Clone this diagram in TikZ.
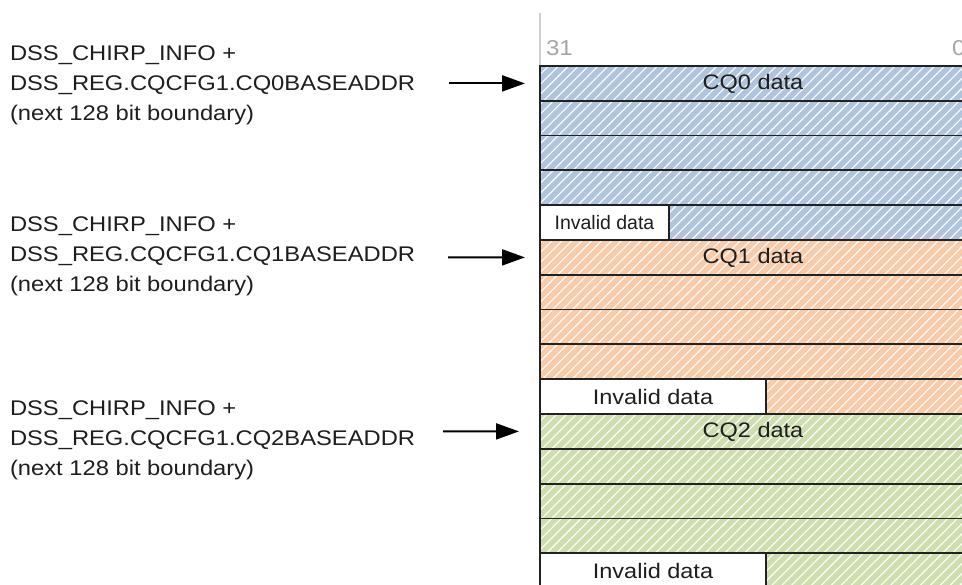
\documentclass[tikz,border=0pt]{standalone}
\usepackage{fontspec}
\setmainfont{Liberation Sans}[FakeStretch=1.12]
\newfontfamily\narrowfont{Liberation Sans}
\usetikzlibrary{arrows.meta}
\usetikzlibrary{positioning}
\usetikzlibrary{patterns.meta}
\definecolor{cqblue}{RGB}{176,196,222}
\definecolor{cqorange}{RGB}{250,203,168}
\definecolor{cqgreen}{RGB}{206,222,175}
\definecolor{rowline}{RGB}{34,34,34}
\definecolor{inktext}{RGB}{30,30,30}
\definecolor{axisgray}{RGB}{205,205,205}
\definecolor{bitgray}{RGB}{165,165,165}
\newcommand{\baseaddr}[1]{%
    \begin{tabular}[t]{@{}l@{}}
        DSS\_CHIRP\_INFO + \\
        DSS\_REG.CQCFG1.#1BASEADDR \\
        (next 128 bit boundary)
    \end{tabular}%
}
\def\CQzeroAddr{\baseaddr{CQ0}}
\def\CQoneAddr{\baseaddr{CQ1}}
\def\CQtwoAddr{\baseaddr{CQ2}}

\begin{document}
\begin{tikzpicture}[x=1pt, y=-1pt,
                    every node/.style={inner sep=0pt, outer sep=0pt, text=inktext},
                    row/.style={draw=rowline, line width=1.8pt, anchor=north west,
                                minimum width=426pt, minimum height=34.8pt,
                                font=\fontsize{21}{24}\selectfont},
                    hatched/.style={preaction={fill=#1},
                                    preaction={pattern={Lines[angle=45,distance=7pt,line width=1.1pt]},
                                               pattern color=white}},
                    invalid/.style={draw=rowline, line width=1.8pt, fill=white, anchor=north west,
                                    minimum width=#1, minimum height=34.8pt},
                    addr/.style={anchor=base west, font=\fontsize{21.2}{30}\selectfont},
                    bit/.style={anchor=base west, text=bitgray, font=\fontsize{21.5}{24}\selectfont},
                    addrarrow/.style={draw=black, line width=2pt, -{Triangle[length=23pt,width=16pt]}}]

    \useasboundingbox (0,0) rectangle (962,585);
    \clip (0,0) rectangle (962,585);

    \coordinate (axtop) at (540,13);
    \coordinate (axbot) at (540,585);
    \draw[axisgray, line width=1.5pt] (axtop) -- (axbot);

    \node[bit] (msb) at (546,56) {31};
    \node[bit] (lsb) at (952,56) {0};

    \foreach \q/\shade in {0/cqblue, 1/cqorange, 2/cqgreen}
        \foreach \k in {0,...,4} {
            \pgfmathtruncatemacro\n{5*\q+\k}
            \node[row, hatched=\shade] (r\n) at (540,{66+34.8*\n})
                {\ifnum\k=0 CQ\q{} data\fi};
        }

    \node[invalid=129pt, font=\narrowfont\fontsize{19.5}{22}\selectfont] (inv0) at (r4.north west) {Invalid data};
    \node[invalid=226pt, font=\fontsize{21}{24}\selectfont] (inv1) at (r9.north west) {Invalid data};
    \node[invalid=226pt, font=\fontsize{21}{24}\selectfont] (inv2) at (r14.north west) {Invalid data};

    \node[addr] (addr0) at (10,61) {\CQzeroAddr};
    \node[addr] (addr1) at (10,232) {\CQoneAddr};
    \node[addr] (addr2) at (10,416) {\CQtwoAddr};

    \coordinate (t0) at (449,83.4);
    \coordinate (t1) at (448,257.4);
    \coordinate (t2) at (443,431.4);
    \draw[addrarrow] (t0) -- ([xshift=-15pt]r0.west);
    \draw[addrarrow] (t1) -- ([xshift=-15pt]r5.west);
    \draw[addrarrow] (t2) -- ([xshift=-21pt]r10.west);
\end{tikzpicture}
\end{document}
